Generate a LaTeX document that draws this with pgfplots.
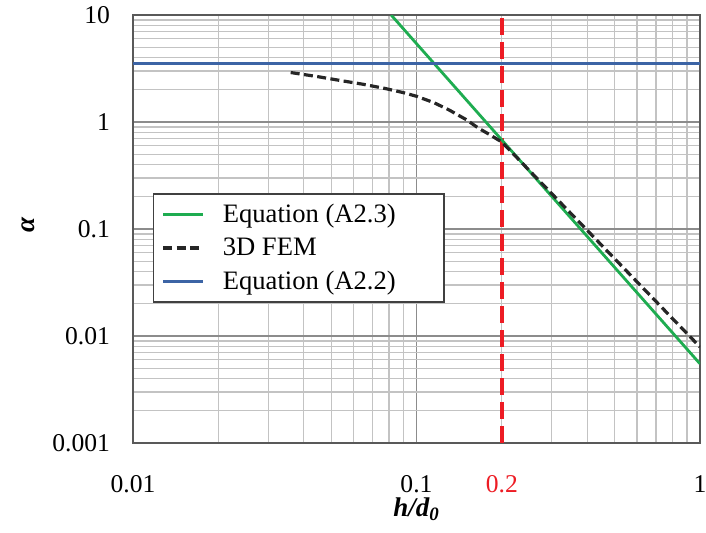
\documentclass[border=0pt]{standalone}
\usepackage{fontspec}
\setmainfont{Liberation Serif}
\usepackage{pgfplots}
\pgfplotsset{compat=1.18}
\definecolor{eqgreen}{RGB}{30,172,80}
\definecolor{eqblue}{RGB}{60,100,165}
\definecolor{refred}{RGB}{237,28,36}
\definecolor{gridmin}{RGB}{195,195,195}
\definecolor{gridmaj}{RGB}{140,140,140}
\begin{document}
\begin{tikzpicture}
\useasboundingbox (-66.5pt,-44.5pt) rectangle (286.5pt,221.5pt);
\begin{loglogaxis}[
  at={(0,0)}, anchor=south west, scale only axis,
  width=283.5pt, height=214pt,
  xmin=0.01, xmax=1, ymin=0.001, ymax=10,
  xtick={0.01,0.1,1}, xticklabels={0.01,0.1,1},
  ytick={0.001,0.01,0.1,1,10}, yticklabels={0.001,0.01,0.1,1,10},
  grid=both,
  minor grid style={gridmin, line width=0.65pt},
  major grid style={gridmaj, line width=0.7pt},
  axis line style={draw=black!65, line width=0.9pt},
  major tick length=0pt, minor tick length=0pt,
  tick label style={font=\fontsize{12.8}{14}\selectfont},
  /pgf/number format/assume math mode=true,
  xticklabel style={inner sep=1pt, yshift=-15pt},
  yticklabel style={xshift=-8pt},
  extra x ticks={0.2}, extra x tick labels={\textcolor{refred}{0.2}},
  extra x tick style={grid=none},
  xlabel={\bfseries\itshape h/d\textsubscript{0}},
  ylabel={\bfseries\itshape α},
  label style={font=\fontsize{13.5}{15}\selectfont},
  xlabel style={at={(axis description cs:0.5,-0.155)}, anchor=center, inner sep=0pt},
  ylabel style={at={(axis description cs:-0.185,0.51)}, anchor=center},
  legend style={at={(0.035,0.584)}, anchor=north west, draw=black!75, line width=0.8pt, fill=white,
    font=\fontsize{13.3}{15}\selectfont, row sep=2.2pt, inner xsep=4pt, inner ysep=3pt},
  legend cell align=left,
  legend image code/.code={\draw[#1] (0pt,0pt) -- (20pt,0pt); \path (27pt,0pt);},
]
\addplot[refred, line width=1.8pt, dash pattern=on 8.5pt off 3.5pt, forget plot] coordinates {(0.2,0.001) (0.2,10)};
\addplot[eqgreen, line width=1.4pt, legend image post style={line width=1.4pt}] coordinates {(0.0814,10) (1,0.0055)};
\addlegendentry{Equation (A2.3)}
\addplot[black!85, line width=1.6pt, dash pattern=on 4.5pt off 2.2pt, legend image post style={line width=1.6pt}] coordinates {
  (0.036,2.9) (0.045,2.65) (0.055,2.42) (0.065,2.25) (0.078,2.05) (0.09,1.88) (0.1,1.74)
  (0.115,1.52) (0.13,1.3) (0.15,1.05) (0.165,0.88) (0.18,0.77) (0.2,0.65) (1,0.0079)};
\addlegendentry{3D FEM}
\addplot[eqblue, line width=1.4pt, legend image post style={line width=1.4pt}] coordinates {(0.01,3.5) (1,3.5)};
\addlegendentry{Equation (A2.2)\rule{18pt}{0pt}}
\end{loglogaxis}
\end{tikzpicture}
\end{document}
